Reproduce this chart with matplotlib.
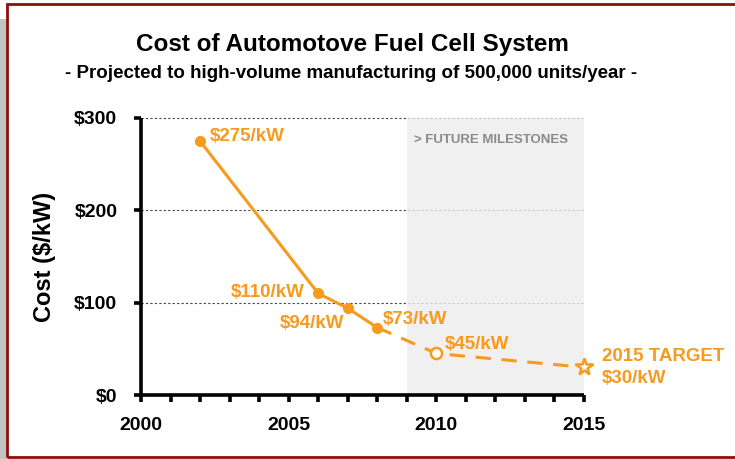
import matplotlib
matplotlib.use("Agg")
import matplotlib.pyplot as plt
from matplotlib.patches import Rectangle

# Data
years_actual = [2002, 2006, 2007, 2008]
cost_actual = [275, 110, 94, 73]
years_proj = [2008, 2010, 2015]
cost_proj = [73, 45, 30]
label_texts = ["$275/kW", "$110/kW", "$94/kW", "$73/kW", "$45/kW"]
label_years = [2002, 2006, 2007, 2008, 2010]
label_costs = [275, 110, 94, 73, 45]
target_year = 2015
target_cost = 30
future_start, future_end = 2009, 2015
xticks = [2000, 2005, 2010, 2015]
yticks = [0, 100, 200, 300]
ytick_labels = ["$0", "$100", "$200", "$300"]

ORANGE = "#F79A1E"
plt.rcParams['font.family'] = ['Liberation Sans', 'DejaVu Sans']
plt.rcParams['font.weight'] = 'bold'

fig = plt.figure(figsize=(7.35, 4.59), dpi=100)
W, H = 735, 459

# Frame decorations
fig.patches.append(Rectangle((0, 0), 7 / W, (H - 19) / H, transform=fig.transFigure,
                             facecolor="#C3C3C3", edgecolor="none", zorder=0))
fig.patches.append(Rectangle((7 / W, 2 / H), 740 / W, (H - 6) / H, transform=fig.transFigure,
                             facecolor="none", edgecolor="#8E0E0E", linewidth=2.0, zorder=1))

ax = fig.add_axes([141 / W, 1 - 395 / H, (584 - 141) / W, (395 - 118) / H])
ax.set_xlim(2000, 2015)
ax.set_ylim(0, 300)

for s in ["top", "right"]:
    ax.spines[s].set_visible(False)
for s in ["left", "bottom"]:
    ax.spines[s].set_linewidth(2.6)
    ax.spines[s].set_color("black")
    ax.spines[s].set_capstyle("butt")

ax.set_xticks(xticks)
ax.set_xticks(range(2000, 2016), minor=True)
ax.set_yticks(yticks)
ax.set_yticklabels(ytick_labels)
ax.tick_params(axis="both", which="both", direction="out", length=5, width=2.6, color="black")
ax.tick_params(axis="both", which="major", labelsize=14)
ax.tick_params(axis="y", which="major", pad=12)
ax.tick_params(axis="x", which="major", pad=11)
for lbl in ax.get_xticklabels() + ax.get_yticklabels():
    lbl.set_fontweight("bold")

# Grid
for y in [100, 200, 300]:
    ax.axhline(y, color="#444444", linestyle=(0, (2, 2)), linewidth=0.8, zorder=1, clip_on=False)

# Future milestones shading
ax.axvspan(future_start, future_end, color="#EDEDED", alpha=0.8, zorder=1.5, linewidth=0)
ax.text(future_start + 0.25, 276, "> FUTURE MILESTONES", color="#8A8A8A", fontsize=9.5,
        fontweight="bold", ha="left", va="center", zorder=3)

# Lines
ax.plot(years_actual, cost_actual, color=ORANGE, linewidth=2.2, marker="o", markersize=7,
        markerfacecolor=ORANGE, markeredgecolor=ORANGE, zorder=4, solid_capstyle="round")
ax.plot(years_proj, cost_proj, color=ORANGE, linewidth=2.2, linestyle=(0, (5, 3.5)), zorder=4)
ax.plot([years_proj[1]], [cost_proj[1]], marker="o", markersize=8, markerfacecolor="white",
        markeredgecolor=ORANGE, markeredgewidth=1.8, linestyle="none", zorder=5)
ax.plot([target_year], [target_cost], marker="*", markersize=13, markerfacecolor="white",
        markeredgecolor=ORANGE, markeredgewidth=1.8, linestyle="none", zorder=5, clip_on=False)

# Value labels
offsets = [(10, 5, "left"), (-14, 1, "right"), (-3, -15, "right"), (6, 8, "left"), (8, 9, "left")]
for txt, xv, yv, (dx, dy, ha) in zip(label_texts, label_years, label_costs, offsets):
    ax.annotate(txt, (xv, yv), xytext=(dx, dy), textcoords="offset pixels", color=ORANGE,
                fontsize=13.5, fontweight="bold", ha=ha, va="center", zorder=6)
ax.annotate("2015 TARGET", (target_year, target_cost), xytext=(18, 11), textcoords="offset pixels",
            color=ORANGE, fontsize=13.5, fontweight="bold", ha="left", va="center", annotation_clip=False)
ax.annotate("$30/kW", (target_year, target_cost), xytext=(18, -11), textcoords="offset pixels",
            color=ORANGE, fontsize=13.5, fontweight="bold", ha="left", va="center", annotation_clip=False)

ax.set_ylabel("Cost ($/kW)", fontsize=17, fontweight="bold", labelpad=13)

fig.text(352 / W, 1 - 44 / H, "Cost of Automotove Fuel Cell System", fontsize=17.5,
         fontweight="bold", ha="center", va="center")
fig.text(351 / W, 1 - 74 / H, "- Projected to high-volume manufacturing of 500,000 units/year -",
         fontsize=13.5, fontweight="bold", ha="center", va="center")

fig.savefig("out.png", dpi=100)
